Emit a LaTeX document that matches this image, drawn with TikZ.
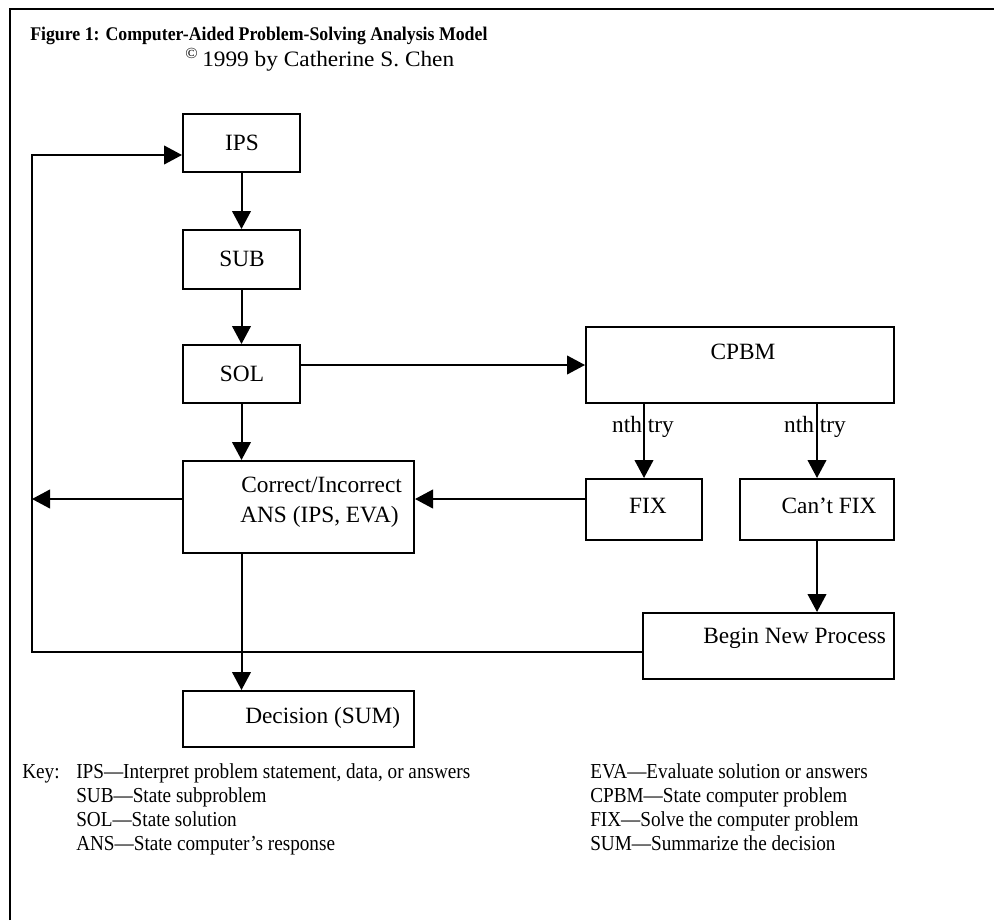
\documentclass[tikz,border=0pt]{standalone}
\usepackage{fontspec}
\setmainfont{Liberation Serif}
\usetikzlibrary{arrows.meta,fit}
\newcommand{\kx}[1]{\scalebox{0.9}[1]{#1}}
\tikzset{
 box/.style={draw, line width=1.5pt, inner sep=0pt},
 conn/.style={line width=1.5pt},
 arr/.style={conn, -{Triangle[length=13.5pt,width=14pt]}},
 btxt/.style={font=\fontsize{17.5}{20}\selectfont, inner sep=0pt},
 ktxt/.style={font=\fontsize{16}{18}\selectfont, inner sep=0pt, anchor=base west},
}
\begin{document}
\begin{tikzpicture}[x=0.75pt,y=-0.75pt]
\useasboundingbox (0,0) rectangle (994,920);
\draw[line width=1.6pt] (10,920) -- (10,9) -- (994,9);
% title
\node[anchor=base west, inner sep=0pt, font=\bfseries\fontsize{14.5}{16}\selectfont] (title) at (30,41) {\scalebox{0.92}[1]{Figure 1: Computer-Aided Problem-Solving Analysis Model}};
\node[anchor=base west, inner sep=0pt, font=\fontsize{16.5}{18}\selectfont] (copy) at (185,67) {\scalebox{1.06}[1]{\textsuperscript{©}\,1999 by Catherine S. Chen}};
% boxes
\node[box, fit={(183,114) (300,172)}] (ips) {};
\node[box, fit={(183,230) (300,289)}] (sub) {};
\node[box, fit={(183,345) (300,403)}] (sol) {};
\node[box, fit={(183,461) (414,553)}] (cor) {};
\node[box, fit={(586,327) (894,403)}] (cpbm) {};
\node[box, fit={(586,479) (702,540)}] (fix) {};
\node[box, fit={(740,479) (894,540)}] (cfix) {};
\node[box, fit={(643,613) (894,679)}] (bnp) {};
\node[box, fit={(183,691) (414,747)}] (dec) {};
% texts
\node[btxt] (ipst) at (242,143) {IPS};
\node[btxt] (subt) at (242,259) {SUB};
\node[btxt] (solt) at (242,374) {SOL};
\node[btxt, anchor=west] (cort1) at (241,485) {Correct/Incorrect};
\node[btxt, anchor=west] (cort2) at (240,517) {ANS (IPS, EVA)};
\node[btxt] (cpbmt) at (743,352) {CPBM};
\node[btxt] (fixt) at (648,506) {FIX};
\node[btxt] (cfixt) at (829,506) {Can’t FIX};
\node[btxt, anchor=west] (bnpt) at (703,638) {Begin New Process};
\node[btxt, anchor=west] (dect) at (245,718) {Decision (SUM)};
\node[btxt] (try1) at (643,427) {nth try};
\node[btxt] (try2) at (815,427) {nth try};
% coordinates
\coordinate (fy) at (0,499);
\coordinate (lft) at (32,499);
\coordinate (lb) at (32,652);
\coordinate (lt) at (32,155);
% connectors
\draw[arr] (ips.south) -- (sub.north);
\draw[arr] (sub.south) -- (sol.north);
\draw[arr] (sol.south) -- (sol.south |- cor.north);
\draw[arr] (sol.east |- cpbm.west) -- (cpbm.west);
\draw[arr] (fix.north |- cpbm.south) -- (fix.north);
\draw[arr] (cfix.north |- cpbm.south) -- (cfix.north);
\draw[arr] (fix.west |- fy) -- (cor.east |- fy);
\draw[arr] (cor.west |- fy) -- (lft);
\draw[arr] (cfix.south) -- (cfix.south |- bnp.north);
\draw[arr] (ips.south |- cor.south) -- (ips.south |- dec.north);
\draw[arr] (bnp.west |- lb) -- (lb) -- (lt) -- (ips.west |- lt);
% key
\node[ktxt] (k0) at (22,778) {\kx{Key:}};
\node[ktxt] (k1) at (76,778) {\kx{IPS—Interpret problem statement, data, or answers}};
\node[ktxt] (k2) at (76,802) {\kx{SUB—State subproblem}};
\node[ktxt] (k3) at (76,826) {\kx{SOL—State solution}};
\node[ktxt] (k4) at (76,850) {\kx{ANS—State computer’s response}};
\node[ktxt] (k5) at (590,778) {\kx{EVA—Evaluate solution or answers}};
\node[ktxt] (k6) at (590,802) {\kx{CPBM—State computer problem}};
\node[ktxt] (k7) at (590,826) {\kx{FIX—Solve the computer problem}};
\node[ktxt] (k8) at (590,850) {\kx{SUM—Summarize the decision}};
\end{tikzpicture}
\end{document}
